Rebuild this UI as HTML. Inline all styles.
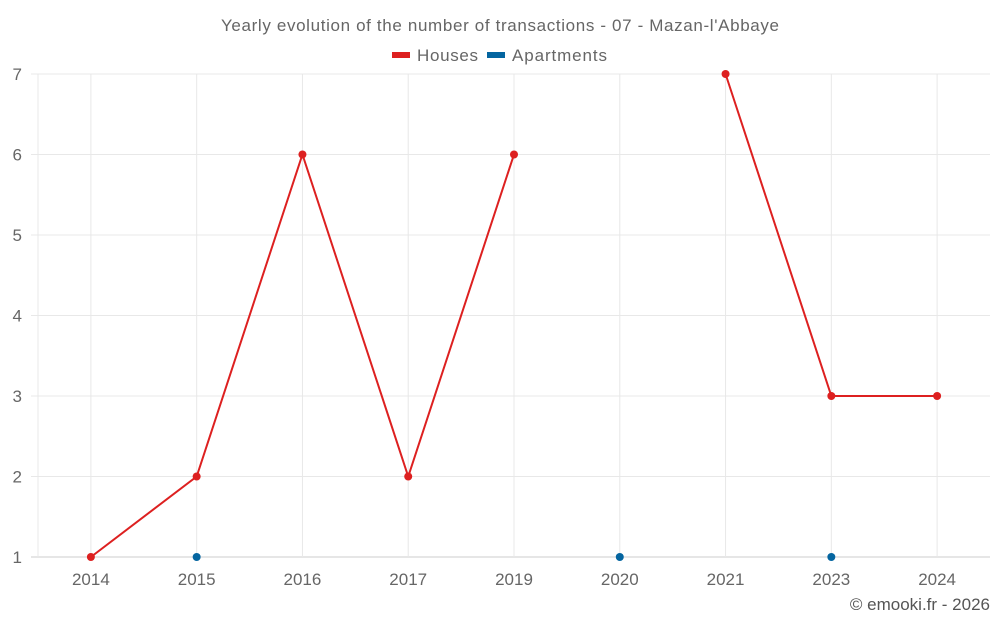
<!DOCTYPE html>
<html><head><meta charset="utf-8"><style>
body{margin:0;background:#fff;font-family:"Liberation Sans",sans-serif;}
svg text{font-family:"Liberation Sans",sans-serif;}
</style></head><body>
<svg width="1000" height="625" xmlns="http://www.w3.org/2000/svg">
<text x="221" y="31" textLength="558" lengthAdjust="spacing" font-size="17" fill="#666">Yearly evolution of the number of transactions - 07 - Mazan-l'Abbaye</text>
<g>
<g><rect x="392" y="52" width="18" height="6" fill="#dd2020"/><text x="417" y="61" textLength="61" font-size="17" fill="#666">Houses</text></g>
<g><rect x="487" y="52" width="18" height="6" fill="#0465a0"/><text x="512" y="61" textLength="95" font-size="17" fill="#666">Apartments</text></g>
</g>
<g id="grid"></g><g id="axes"></g><g id="series"></g>
<text x="990" y="610" text-anchor="end" font-size="17" fill="#555">© emooki.fr - 2026</text>
</svg>
<script>
const categories=["2014","2015","2016","2017","2019","2020","2021","2023","2024"];
const houses=[1,2,6,2,6,null,7,3,3];
const apartments=[null,1,null,null,null,1,null,1,null];
const yTicks=[1,2,3,4,5,6,7];
const L=38,R=990,T=74,B=557,yMin=1,yMax=7;
const NS="http://www.w3.org/2000/svg";
const bw=(R-L)/categories.length;
function x(i){return L+bw*(i+0.5);}
function y(v){return B-(v-yMin)/(yMax-yMin)*(B-T);}
function mk(tag,attrs,parent){const e=document.createElementNS(NS,tag);for(const k in attrs)e.setAttribute(k,attrs[k]);parent.appendChild(e);return e;}
const grid=document.getElementById('grid'),axes=document.getElementById('axes'),series=document.getElementById('series');
yTicks.forEach(v=>{
 const l=mk('line',{x1:31,x2:R,y1:y(v),y2:y(v),stroke:v===yMin?'#ccc':'#e8e8e8','stroke-width':1},grid);
 
 
 const t=mk('text',{x:22,y:y(v)+6,'text-anchor':'end','font-size':17,fill:'#666'},axes);
 t.textContent=v;
 
 
});
const l0=mk('line',{x1:L,x2:L,y1:T,y2:B,stroke:'#e8e8e8'},grid);


categories.forEach((c,i)=>{
 const l=mk('line',{x1:x(i),x2:x(i),y1:T,y2:B,stroke:'#e8e8e8'},grid);
 
 
 const t=mk('text',{x:x(i),y:585,'text-anchor':'middle','font-size':17,fill:'#666'},axes);
 t.textContent=c;
 
 
});
function draw(data,color,name){
 let seg=[];
 const flush=()=>{if(seg.length>1){const p=mk('polyline',{points:seg.join(' '),fill:'none',stroke:color,'stroke-width':2},series);
 
 }seg=[];};
 data.forEach((v,i)=>{if(v==null){flush();return;}seg.push(x(i)+','+y(v));});
 flush();
 data.forEach((v,i)=>{if(v==null)return;const c=mk('circle',{cx:x(i),cy:y(v),r:4,fill:color},series);
 
 });
}
draw(houses,'#dd2020','houses');
draw(apartments,'#0465a0','apartments');
</script>
</body></html>
